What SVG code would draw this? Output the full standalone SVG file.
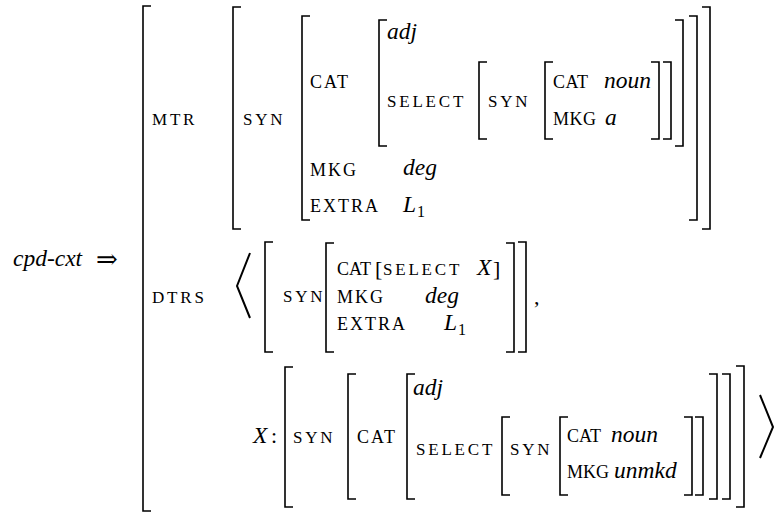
<svg xmlns="http://www.w3.org/2000/svg" width="779" height="513" viewBox="0 0 779 513">
<style>
.br{fill:none;stroke:#000;stroke-width:1.6}
.ang{fill:none;stroke:#000;stroke-width:2}
.f{font-family:"Liberation Serif","Times New Roman",serif;fill:#000}
.sc{font-size:17px;letter-spacing:2.8px}
.cp{font-size:18px;letter-spacing:2px}
.ci{font-size:18px;letter-spacing:0.5px}
.cj{font-size:18px;letter-spacing:0px}
.it{font-size:23.5px;font-style:italic}
.sub{font-size:16px}
.rm{font-size:22px}
</style>
<rect width="779" height="513" fill="#fff"/>
<g id="lhs">
<text class="f it" x="13" y="266">cpd-cxt</text>
<text x="96" y="268" font-family="DejaVu Serif, DejaVu Sans, serif" font-size="26">⇒</text>
</g>
<g id="outer">
<path class="br" d="M151 6H143V511H151"/>
<text class="f sc" x="152" y="125">MTR</text>
<text class="f sc" x="152" y="303">DTRS</text>
</g>
<g id="mtr">
<path class="br" d="M241 7H233V229H241"/>
<path class="br" d="M702 7H710V229H702"/>
<text class="f sc" x="243" y="125">SYN</text>
<path class="br" d="M310 16H302V220H310"/>
<path class="br" d="M689 16H697V220H689"/>
<text class="f cp" x="310" y="88">CAT</text>
<text class="f cp" x="310" y="176">MKG</text>
<text class="f cp" x="310" y="212">EXTRA</text>
<text class="f it" x="403" y="175">deg</text>
<text class="f it" x="403" y="212">L</text><text class="f sub" x="417" y="217">1</text>
<path class="br" d="M387 20H379V146H387"/>
<path class="br" d="M675 20H683V146H675"/>
<text class="f it" x="387" y="39">adj</text>
<text class="f sc" x="387" y="107">SELECT</text>
<path class="br" d="M487 62H479V139H487"/>
<path class="br" d="M663 62H671V139H663"/>
<text class="f sc" x="488" y="107">SYN</text>
<path class="br" d="M553 62H545V139H553"/>
<path class="br" d="M651 62H659V139H651"/>
<text class="f ci" x="553" y="88">CAT</text>
<text class="f it" x="604" y="88">noun</text>
<text class="f ci" x="553" y="125">MKG</text>
<text class="f it" x="605" y="125">a</text>
</g>
<g id="dtr1">
<polyline class="ang" points="250,253 237,286 250,318"/>
<path class="br" d="M273 242H265V352H273"/>
<path class="br" d="M518 242H526V352H518"/>
<text class="f sc" x="283" y="302">SYN</text>
<path class="br" d="M334 243H326V352H334"/>
<path class="br" d="M506 243H514V352H506"/>
<text class="f cj" x="337" y="275">CAT</text>
<text class="f rm" x="375" y="276">[</text>
<text class="f sc" x="383" y="275">SELECT</text>
<text class="f it" x="477" y="275">X</text>
<text class="f rm" x="493" y="276">]</text>
<text class="f cp" x="337" y="303">MKG</text>
<text class="f it" x="425" y="303">deg</text>
<text class="f cp" x="337" y="330">EXTRA</text>
<text class="f it" x="444" y="330">L</text><text class="f sub" x="458" y="335">1</text>
<text class="f rm" x="534" y="304">,</text>
</g>
<g id="dtr2">
<text class="f it" x="253" y="443">X</text>
<text class="f rm" x="271" y="443">:</text>
<path class="br" d="M293 367H285V507H293"/>
<path class="br" d="M736 366H744V507H736"/>
<text class="f sc" x="293" y="443">SYN</text>
<path class="br" d="M356 374H348V499H356"/>
<path class="br" d="M722 374H730V499H722"/>
<text class="f cp" x="357" y="443">CAT</text>
<path class="br" d="M415 374H407V499H415"/>
<path class="br" d="M709 374H717V499H709"/>
<text class="f it" x="413" y="395">adj</text>
<text class="f sc" x="416" y="455">SELECT</text>
<path class="br" d="M510 417H502V495H510"/>
<path class="br" d="M695 417H703V495H695"/>
<text class="f sc" x="510" y="455">SYN</text>
<path class="br" d="M568 417H560V495H568"/>
<path class="br" d="M684 417H692V495H684"/>
<text class="f cj" x="567" y="442">CAT</text>
<text class="f it" x="611" y="442">noun</text>
<text class="f cj" x="567" y="478">MKG</text>
<text class="f it" x="614" y="478">unmkd</text>
<polyline class="ang" points="760,395 773,427 760,458"/>
</g>
</svg>
